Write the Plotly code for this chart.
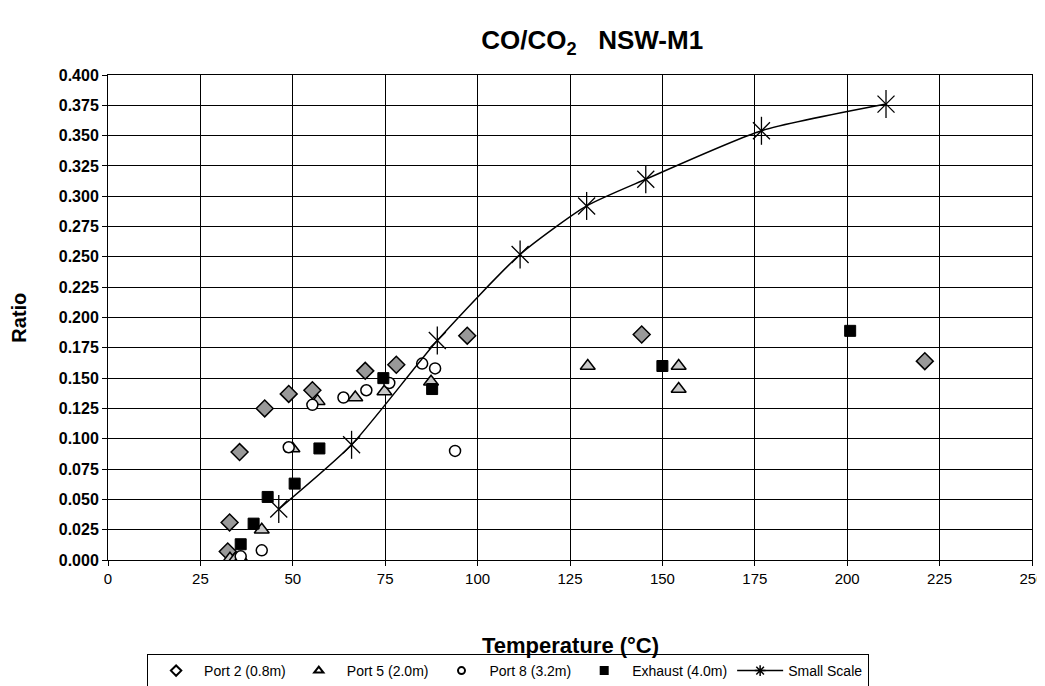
import plotly.graph_objects as go

# Data
port2_x = [32.4, 32.9, 35.6, 42.4, 48.9, 55.3, 69.6, 78.0, 97.2, 144.4, 221.0]
port2_y = [0.007, 0.031, 0.089, 0.125, 0.137, 0.140, 0.156, 0.161, 0.185, 0.186, 0.164]

port5_x = [33.0, 34.5, 36.0, 41.6, 49.9, 56.7, 66.9, 74.8, 87.4, 129.8, 154.4, 154.4]
port5_y = [0.001, 0.001, 0.001, 0.025, 0.092, 0.131, 0.134, 0.139, 0.147, 0.160, 0.160, 0.141]

port8_x = [35.9, 41.6, 48.9, 55.3, 63.7, 69.9, 76.1, 85.0, 88.5, 93.9]
port8_y = [0.003, 0.008, 0.093, 0.128, 0.134, 0.140, 0.146, 0.162, 0.158, 0.090]

exhaust_x = [35.9, 39.4, 43.2, 50.5, 57.2, 74.5, 87.7, 150.0, 200.8]
exhaust_y = [0.013, 0.030, 0.052, 0.063, 0.092, 0.150, 0.141, 0.160, 0.189]

small_x = [46.2, 65.9, 89.1, 111.5, 129.5, 145.5, 176.8, 210.5]
small_y = [0.042, 0.095, 0.181, 0.252, 0.292, 0.314, 0.354, 0.376]

FONT = "Liberation Sans, Arial, sans-serif"

fig = go.Figure()
# data traces (legend entries are drawn by the small legend-only traces below)
fig.add_trace(go.Scatter(x=port2_x, y=port2_y, mode="markers", name="Port 2 (0.8m)",
                         showlegend=False, legendgroup="p2",
                         marker=dict(symbol="diamond", size=13, color="#999999",
                                     line=dict(color="black", width=1.5))))
fig.add_trace(go.Scatter(x=port5_x, y=port5_y, mode="markers", name="Port 5 (2.0m)",
                         showlegend=False, legendgroup="p5",
                         marker=dict(symbol="triangle-up", size=13, color="#c8c8c8",
                                     line=dict(color="black", width=1.5))))
fig.add_trace(go.Scatter(x=port8_x, y=port8_y, mode="markers", name="Port 8 (3.2m)",
                         showlegend=False, legendgroup="p8",
                         marker=dict(symbol="circle", size=11, color="white",
                                     line=dict(color="black", width=1.5))))
fig.add_trace(go.Scatter(x=exhaust_x, y=exhaust_y, mode="markers", name="Exhaust (4.0m)",
                         showlegend=False, legendgroup="ex",
                         marker=dict(symbol="square", size=11, color="black",
                                     line=dict(color="black", width=1))))
fig.add_trace(go.Scatter(x=small_x, y=small_y, mode="lines+markers", name="Small Scale",
                         showlegend=False, legendgroup="ss",
                         line=dict(color="black", width=1.5, shape="spline", smoothing=0.6),
                         marker=dict(symbol="x-thin-open", size=17, color="black",
                                     line=dict(color="black", width=1.3))))
fig.add_trace(go.Scatter(x=small_x, y=small_y, mode="markers", name="Small Scale",
                         showlegend=False, legendgroup="ss",
                         marker=dict(symbol="line-ns-open", size=20, color="black",
                                     line=dict(color="black", width=1.3))))

# legend-only entries with small symbols, as in the reference legend
leg = [
    ("Port 2 (0.8m)", "diamond", 8, "white", "p2"),
    ("Port 5 (2.0m)", "triangle-up", 8, "white", "p5"),
    ("Port 8 (3.2m)", "circle", 7, "white", "p8"),
    ("Exhaust (4.0m)", "square", 7, "black", "ex"),
]
for name, sym, sz, fill, grp in leg:
    fig.add_trace(go.Scatter(x=[None], y=[None], mode="markers", name=name, legendgroup=grp,
                             marker=dict(symbol=sym, size=sz, color=fill,
                                         line=dict(color="black", width=2))))
fig.add_trace(go.Scatter(x=[None], y=[None], mode="lines+markers", name="Small Scale",
                         legendgroup="ss", line=dict(color="black", width=1.5),
                         marker=dict(symbol="asterisk-open", size=9, color="black",
                                     line=dict(color="black", width=1.5))))

fig.update_layout(
    width=1045, height=686,
    margin=dict(l=100, r=21, t=67, b=134),
    paper_bgcolor="white", plot_bgcolor="white",
    font=dict(family=FONT, color="black", size=16),
    title=dict(text="<b>CO/CO<sub>2</sub>   NSW-M1</b>", x=0.559, xanchor="center",
               y=0.953, yanchor="middle", font=dict(size=26, family=FONT)),
    legend=dict(orientation="h", x=0.433, xanchor="center",
                yref="container", y=0.0335, yanchor="middle",
                bordercolor="black", borderwidth=1, bgcolor="white",
                font=dict(size=14, family=FONT), itemwidth=46, traceorder="normal"),
    showlegend=True,
    annotations=[
        dict(text="<b>Temperature (°C)</b>", xref="paper", yref="paper", x=0.5, y=-0.177,
             xanchor="center", yanchor="middle", showarrow=False,
             font=dict(size=22, family=FONT)),
        dict(text="<b>Ratio</b>", xref="paper", yref="paper", x=-0.0972, y=0.5,
             xanchor="center", yanchor="middle", showarrow=False, textangle=-90,
             font=dict(size=20, family=FONT)),
    ],
)
fig.update_xaxes(range=[0, 250], dtick=25, tick0=0, showgrid=True, gridcolor="black",
                 gridwidth=1, showline=True, linecolor="black", linewidth=1, mirror=True,
                 ticks="outside", ticklen=5, tickcolor="black", zeroline=False,
                 automargin=False, tickfont=dict(size=15, family=FONT))
fig.update_yaxes(range=[0, 0.4], dtick=0.025, tick0=0, tickformat=".3f", showgrid=True,
                 gridcolor="black", gridwidth=1, showline=True, linecolor="black",
                 linewidth=1, mirror=True, ticks="outside", ticklen=5, tickcolor="black",
                 zeroline=False, automargin=False, tickprefix="<b>", ticksuffix="</b>",
                 tickfont=dict(size=16, family=FONT))

fig.write_html("out.html")
